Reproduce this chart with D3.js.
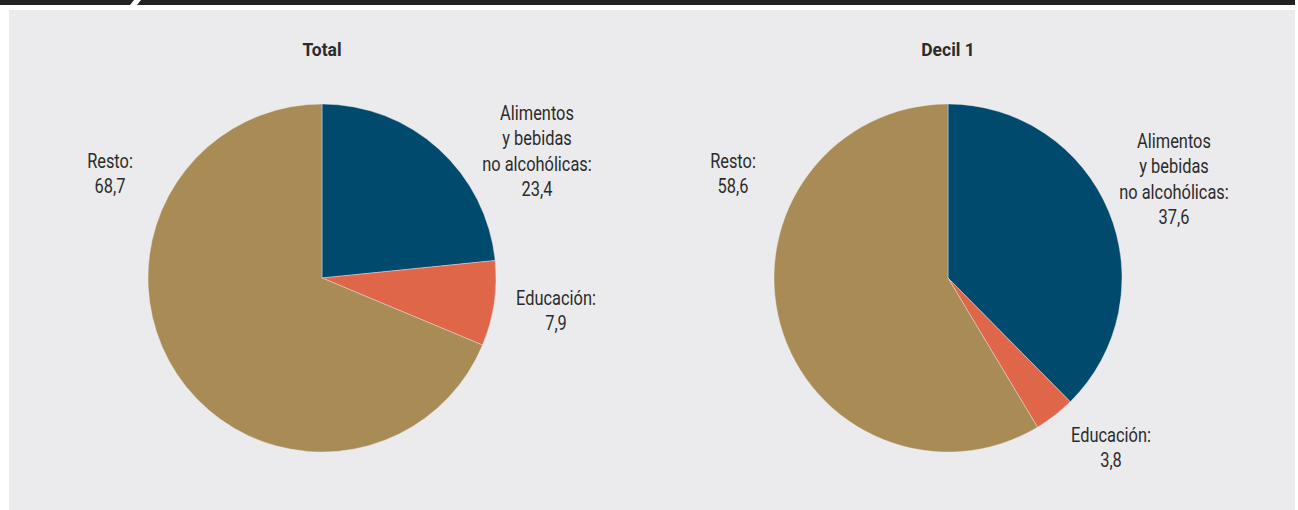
<!DOCTYPE html>
<html>
<head>
<meta charset="utf-8">
<script src="https://cdn.jsdelivr.net/npm/d3@7"></script>
<style>
  html, body { margin: 0; padding: 0; background: #fff; }
  svg { display: block; }
  text { font-family: Roboto, "Noto Sans", sans-serif; fill: #2b2b2b; }
</style>
</head>
<body>
<svg id="chart" width="1298" height="510"></svg>
<script>
// categories and values (percent)
const categories = ["Alimentos y bebidas no alcohólicas", "Educación", "Resto"];
const labelLines = [["Alimentos", "y bebidas", "no alcohólicas:"], ["Educación:"], ["Resto:"]];
const panels = ["Total", "Decil 1"];
const totalValues = [23.4, 7.9, 68.7];
const decil1Values = [37.6, 3.8, 58.6];
const colors = ["#004a6e", "#e0664a", "#a98c55"];

const svg = d3.select("#chart");

// top bar with slanted notch
svg.append("path")
  .attr("d", "M0,0 H134 L130,5 H0 Z")
  .attr("fill", "#222");
svg.append("path")
  .attr("d", "M141,0 H1295 V5 H137 Z")
  .attr("fill", "#222");

// grey background panel
svg.append("rect")
  .attr("x", 9).attr("y", 10)
  .attr("width", 1286).attr("height", 500)
  .attr("fill", "#ebebed");

const radius = 174;
const pie = d3.pie().sort(null).value(d => d);
const arc = d3.arc().innerRadius(0).outerRadius(radius);

// label placement relative to each pie's centre (layout, not data)
const layouts = [
  { cx: 322, cy: 278, labels: [[215, -158], [234, 27], [-212, -110]] },
  { cx: 948, cy: 278, labels: [[226, -130], [163, 164], [-215, -110]] }
];

const fmt = v => d3.format(".1f")(v).replace(".", ",");

[totalValues, decil1Values].forEach((vals, i) => {
  const lay = layouts[i];
  const g = svg.append("g").attr("transform", `translate(${lay.cx},${lay.cy})`);

  g.selectAll("path")
    .data(pie(vals))
    .join("path")
    .attr("d", arc)
    .attr("fill", (d, j) => colors[j])
    .attr("stroke", "#ebebed")
    .attr("stroke-width", 0.4);

  svg.append("text")
    .attr("transform", `translate(${lay.cx},56) scale(0.92,1)`)
    .attr("text-anchor", "middle")
    .style("font-weight", "bold")
    .style("font-size", "19px")
    .text(panels[i]);

  vals.forEach((v, j) => {
    const lines = labelLines[j].concat([fmt(v)]);
    const t = g.append("text")
      .attr("text-anchor", "middle")
      .style("font-size", "20.5px")
      .attr("transform", `translate(${lay.labels[j][0]},${lay.labels[j][1]}) scale(0.8,1)`);
    t.selectAll("tspan")
      .data(lines)
      .join("tspan")
      .attr("x", 0)
      .attr("y", (d, k) => k * 25.5)
      .text(d => d);
  });
});
</script>
</body>
</html>
